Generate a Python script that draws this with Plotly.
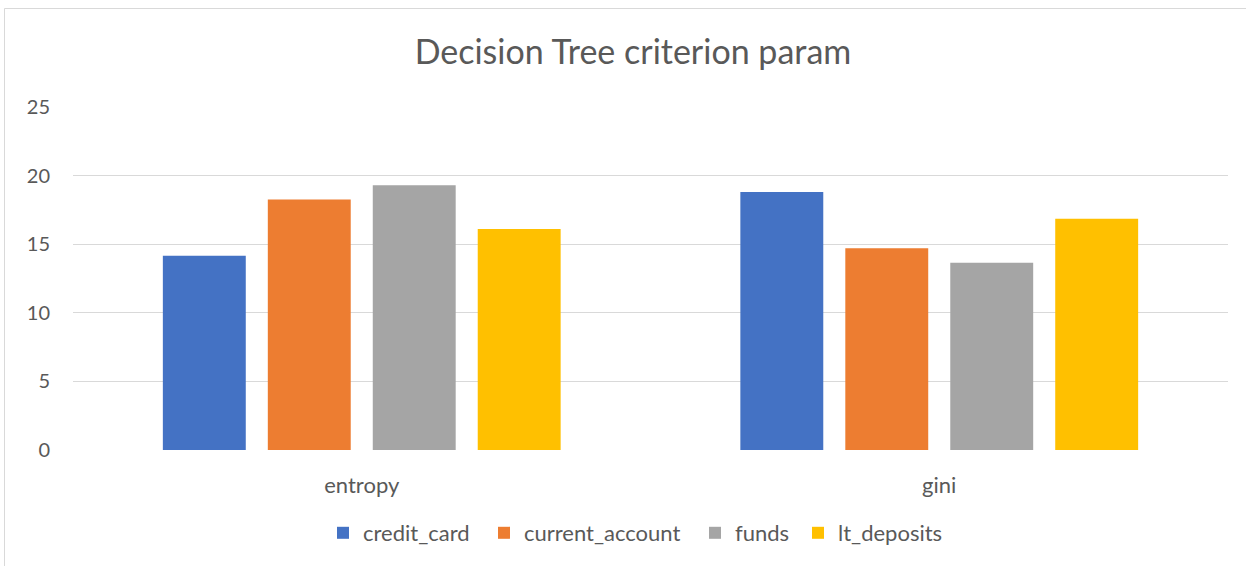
import plotly.graph_objects as go

categories = ["entropy", "gini"]
series_names = ["credit_card", "current_account", "funds", "lt_deposits"]
credit_card = [14.15, 18.8]
current_account = [18.25, 14.7]
funds = [19.3, 13.65]
lt_deposits = [16.1, 16.85]
y_ticks = [0, 5, 10, 15, 20, 25]

colors = ["#4472C4", "#ED7D31", "#A5A5A5", "#FFC000"]
values = [credit_card, current_account, funds, lt_deposits]
legend_ids = ["legend", "legend2", "legend3", "legend4"]
legend_px = [338, 499, 710, 813]  # left pixel of each legend item square

W, H = 1246, 566
L, R, T, B = 73, 18, 107, 116
pw, ph = W - L - R, H - T - B

def px_x(p):
    return (p - L) / pw

def px_y(p):
    return (H - B - p) / ph

fig = go.Figure()
for name, vals, c, lg in zip(series_names, values, colors, legend_ids):
    fig.add_trace(go.Bar(x=categories, y=vals, name=name, legend=lg,
                         marker=dict(color=c, line=dict(width=0))))

font_family = "Lato, Open Sans, sans-serif"
legend_common = dict(orientation="h", yanchor="middle", xanchor="left", y=px_y(533),
                     font=dict(size=22, color="#595959"), itemwidth=30,
                     bgcolor="rgba(0,0,0,0)", borderwidth=0)
legend_layout = {}
for lg, p in zip(legend_ids, legend_px):
    legend_layout[lg] = dict(legend_common, x=px_x(p - 15))

fig.update_layout(
    width=W, height=H,
    margin=dict(l=L, r=R, t=T, b=B),
    paper_bgcolor="white", plot_bgcolor="white",
    barmode="group", bargap=0.273, bargroupgap=0.21,
    title=dict(text="Decision Tree criterion param", x=0.508, xanchor="center",
               y=1 - 52 / H, yanchor="middle",
               font=dict(family=font_family, size=34, color="#595959")),
    font=dict(family=font_family, size=20, color="#595959"),
    showlegend=True,
    xaxis=dict(showgrid=False, showline=False, ticks="outside", ticklen=16,
               tickcolor="rgba(0,0,0,0)", tickfont=dict(size=22, color="#595959")),
    yaxis=dict(range=[0, 25], tickvals=y_ticks, showgrid=True, gridcolor="#D9D9D9",
               gridwidth=1, zeroline=False, showline=False, ticks="outside", ticklen=18,
               tickcolor="rgba(0,0,0,0)", tickfont=dict(size=20, color="#595959")),
    shapes=[dict(type="rect", xref="paper", yref="paper",
                 x0=px_x(4.5), x1=px_x(1252), y0=px_y(8.5), y1=px_y(572),
                 line=dict(color="#D9D9D9", width=1), fillcolor="rgba(0,0,0,0)", layer="below")],
    **legend_layout,
)

fig.write_html("out.html", config={"displayModeBar": False},
               post_script="document.body.style.margin='0';document.body.style.overflow='hidden';")
